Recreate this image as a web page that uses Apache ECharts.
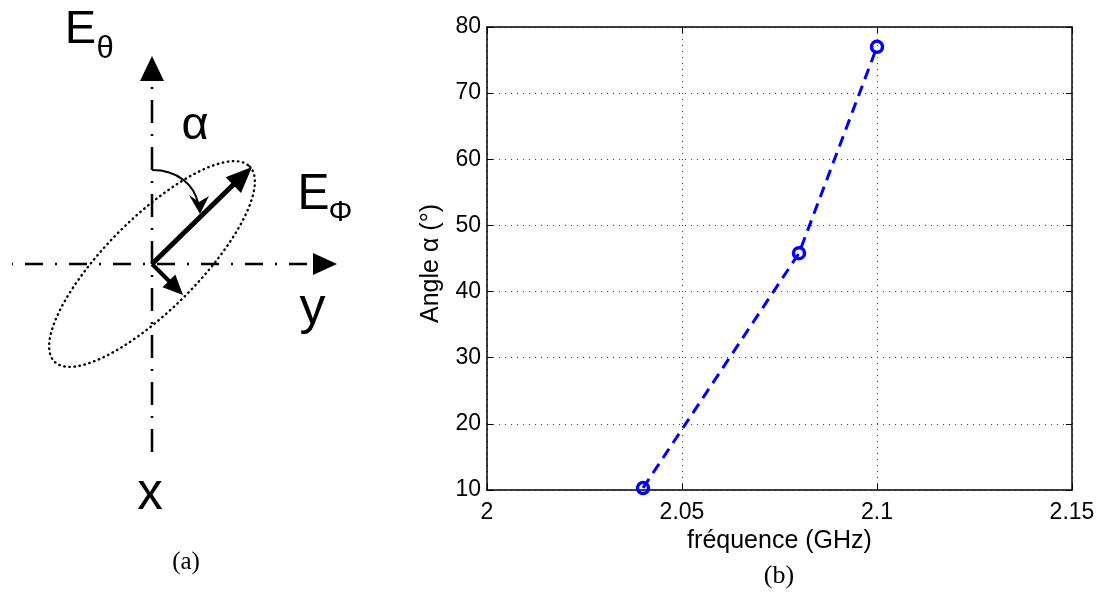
<!DOCTYPE html>
<html><head><meta charset="utf-8">
<script src="https://cdn.jsdelivr.net/npm/echarts@6/dist/echarts.min.js"></script>
<style>html,body{margin:0;padding:0;background:#fff}#c{width:1099px;height:592px}</style>
</head><body><div id="c"></div>
<script>
// ---- data (panel b) ----
const frequencyGHz = [2.04, 2.08, 2.10];
const angleAlpha = [10.3, 45.8, 77.0];
const xTickValues = [2, 2.05, 2.1, 2.15];
const yTickValues = [10, 20, 30, 40, 50, 60, 70, 80];
const xTickStep = 0.05;
const yTickStep = 10;
const xAxisTitle = 'fréquence (GHz)';
const yAxisTitle = 'Angle α (°)';

const SANS = 'Liberation Sans';
const SERIF = 'Liberation Serif';

const chart = echarts.init(document.getElementById('c'), null, {renderer: 'canvas'});

// ---- panel (a): schematic diagram drawn with graphic elements ----
const O = [152, 264];
function ellipsePoints(cx, cy, a, b, rot, n) {
  const pts = [];
  const c = Math.cos(rot), s = Math.sin(rot);
  for (let i = 0; i < n; i++) {
    const t = 2 * Math.PI * i / n;
    const x = a * Math.cos(t), y = b * Math.sin(t);
    pts.push([cx + x * c - y * s, cy + x * s + y * c]);
  }
  return pts;
}
function txt(t, x, y, size, family, sy) {
  return {
    type: 'text', x: x, y: y, scaleY: sy || 1, z: 10,
    style: {text: t, fontSize: size, fontFamily: family, fill: '#000',
      textAlign: 'center', textVerticalAlign: 'middle', align: 'center', verticalAlign: 'middle'}
  };
}
const black = '#000';
const graphics = [
  {type: 'polygon', z: 1, shape: {points: ellipsePoints(O[0], O[1], 138, 46, -Math.PI / 4, 360)},
    style: {fill: 'none', stroke: black, lineWidth: 2.4, lineDash: [0.5, 4.6], lineCap: 'round'}},
  {type: 'line', z: 2, shape: {x1: O[0], y1: 452, x2: O[0], y2: 80},
    style: {stroke: black, lineWidth: 2.5, lineDash: [23, 11, 2, 11]}},
  {type: 'polygon', z: 2, shape: {points: [[152, 56], [140, 81], [164, 81]]}, style: {fill: black}},
  {type: 'line', z: 2, shape: {x1: 307, y1: O[1], x2: 12, y2: O[1]},
    style: {stroke: black, lineWidth: 2.5, lineDash: [18, 12, 2, 12]}},
  {type: 'polygon', z: 2, shape: {points: [[337, 264], [313, 253], [313, 275]]}, style: {fill: black}},
  {type: 'line', z: 3, shape: {x1: O[0], y1: O[1], x2: 234, y2: 184}, style: {stroke: black, lineWidth: 5}},
  {type: 'polygon', z: 3, shape: {points: [[252, 167], [241, 193], [225.6, 177.2]]}, style: {fill: black}},
  {type: 'line', z: 3, shape: {x1: O[0], y1: O[1], x2: 170, y2: 282}, style: {stroke: black, lineWidth: 4}},
  {type: 'polygon', z: 3, shape: {points: [[183, 295], [175.3, 274.5], [162.5, 287.3]]}, style: {fill: black}},
  {type: 'bezierCurve', z: 3, shape: {x1: 152, y1: 170, cpx1: 178, cpy1: 170, cpx2: 194, cpy2: 185, x2: 198, y2: 203},
    style: {fill: 'none', stroke: black, lineWidth: 2}},
  {type: 'polygon', z: 3, shape: {points: [[200, 214], [189, 195], [199, 202], [209, 196]]}, style: {fill: black}},
  txt('E', 80.5, 30.5, 47, SANS),
  txt('θ', 105, 49, 31, SANS),
  txt('α', 195, 126, 47, SANS),
  txt('E', 313.5, 195, 48, SANS, 1.05),
  txt('Φ', 340.5, 213, 30, SANS),
  txt('y', 312.5, 309, 52, SANS),
  txt('x', 150, 495, 51, SANS),
  txt('(a)', 186, 562, 25, SERIF),
  txt('(b)', 779, 576, 26, SERIF)
];

// ---- panel (b): chart ----
const axisLineStyle = {color: '#000', width: 1.5};
const tickStyle = {show: true, inside: true, length: 6, lineStyle: {color: '#000', width: 1}};
const gridLine = {show: true, lineStyle: {color: '#444', width: 1, type: [1, 5]}};
const xMin = xTickValues[0], xMax = xTickValues[xTickValues.length - 1];
const yMin = yTickValues[0], yMax = yTickValues[yTickValues.length - 1];
const fmt = v => String(+(+v).toFixed(2));

chart.setOption({
  animation: false,
  backgroundColor: '#fff',
  grid: {left: 487, right: 27, top: 27, bottom: 102, containLabel: false, outerBoundsMode: 'none'},
  xAxis: [
    {type: 'value', position: 'bottom', min: xMin, max: xMax, interval: xTickStep,
      name: xAxisTitle, nameLocation: 'middle', nameGap: 33,
      nameTextStyle: {fontFamily: SANS, fontSize: 25, color: '#000'},
      axisLine: {show: true, onZero: false, lineStyle: axisLineStyle},
      axisTick: tickStyle,
      axisLabel: {fontFamily: SANS, fontSize: 23, color: '#000', margin: 11, formatter: fmt},
      splitLine: gridLine},
    {type: 'value', position: 'top', min: xMin, max: xMax, interval: xTickStep,
      axisLine: {show: true, onZero: false, lineStyle: axisLineStyle},
      axisTick: tickStyle, axisLabel: {show: false}, splitLine: {show: false}}
  ],
  yAxis: [
    {type: 'value', position: 'left', min: yMin, max: yMax, interval: yTickStep,
      name: yAxisTitle, nameLocation: 'middle', nameGap: 43,
      nameTextStyle: {fontFamily: SANS, fontSize: 25, color: '#000', padding: [0, 10, 0, 0]},
      axisLine: {show: true, onZero: false, lineStyle: axisLineStyle},
      axisTick: tickStyle,
      axisLabel: {fontFamily: SANS, fontSize: 23, color: '#000', margin: 6, formatter: fmt},
      splitLine: gridLine},
    {type: 'value', position: 'right', min: yMin, max: yMax, interval: yTickStep,
      axisLine: {show: true, onZero: false, lineStyle: axisLineStyle},
      axisTick: tickStyle, axisLabel: {show: false}, splitLine: {show: false}}
  ],
  series: [{
    type: 'line', xAxisIndex: 0, yAxisIndex: 0,
    data: frequencyGHz.map((f, i) => [f, angleAlpha[i]]),
    lineStyle: {color: '#0000ff', width: 3, type: [11, 7]},
    symbol: 'circle', symbolSize: 11,
    itemStyle: {color: 'rgba(0,0,0,0)', borderColor: '#0000ff', borderWidth: 3.5},
    z: 5
  }],
  graphic: graphics
});
</script>
</body></html>
